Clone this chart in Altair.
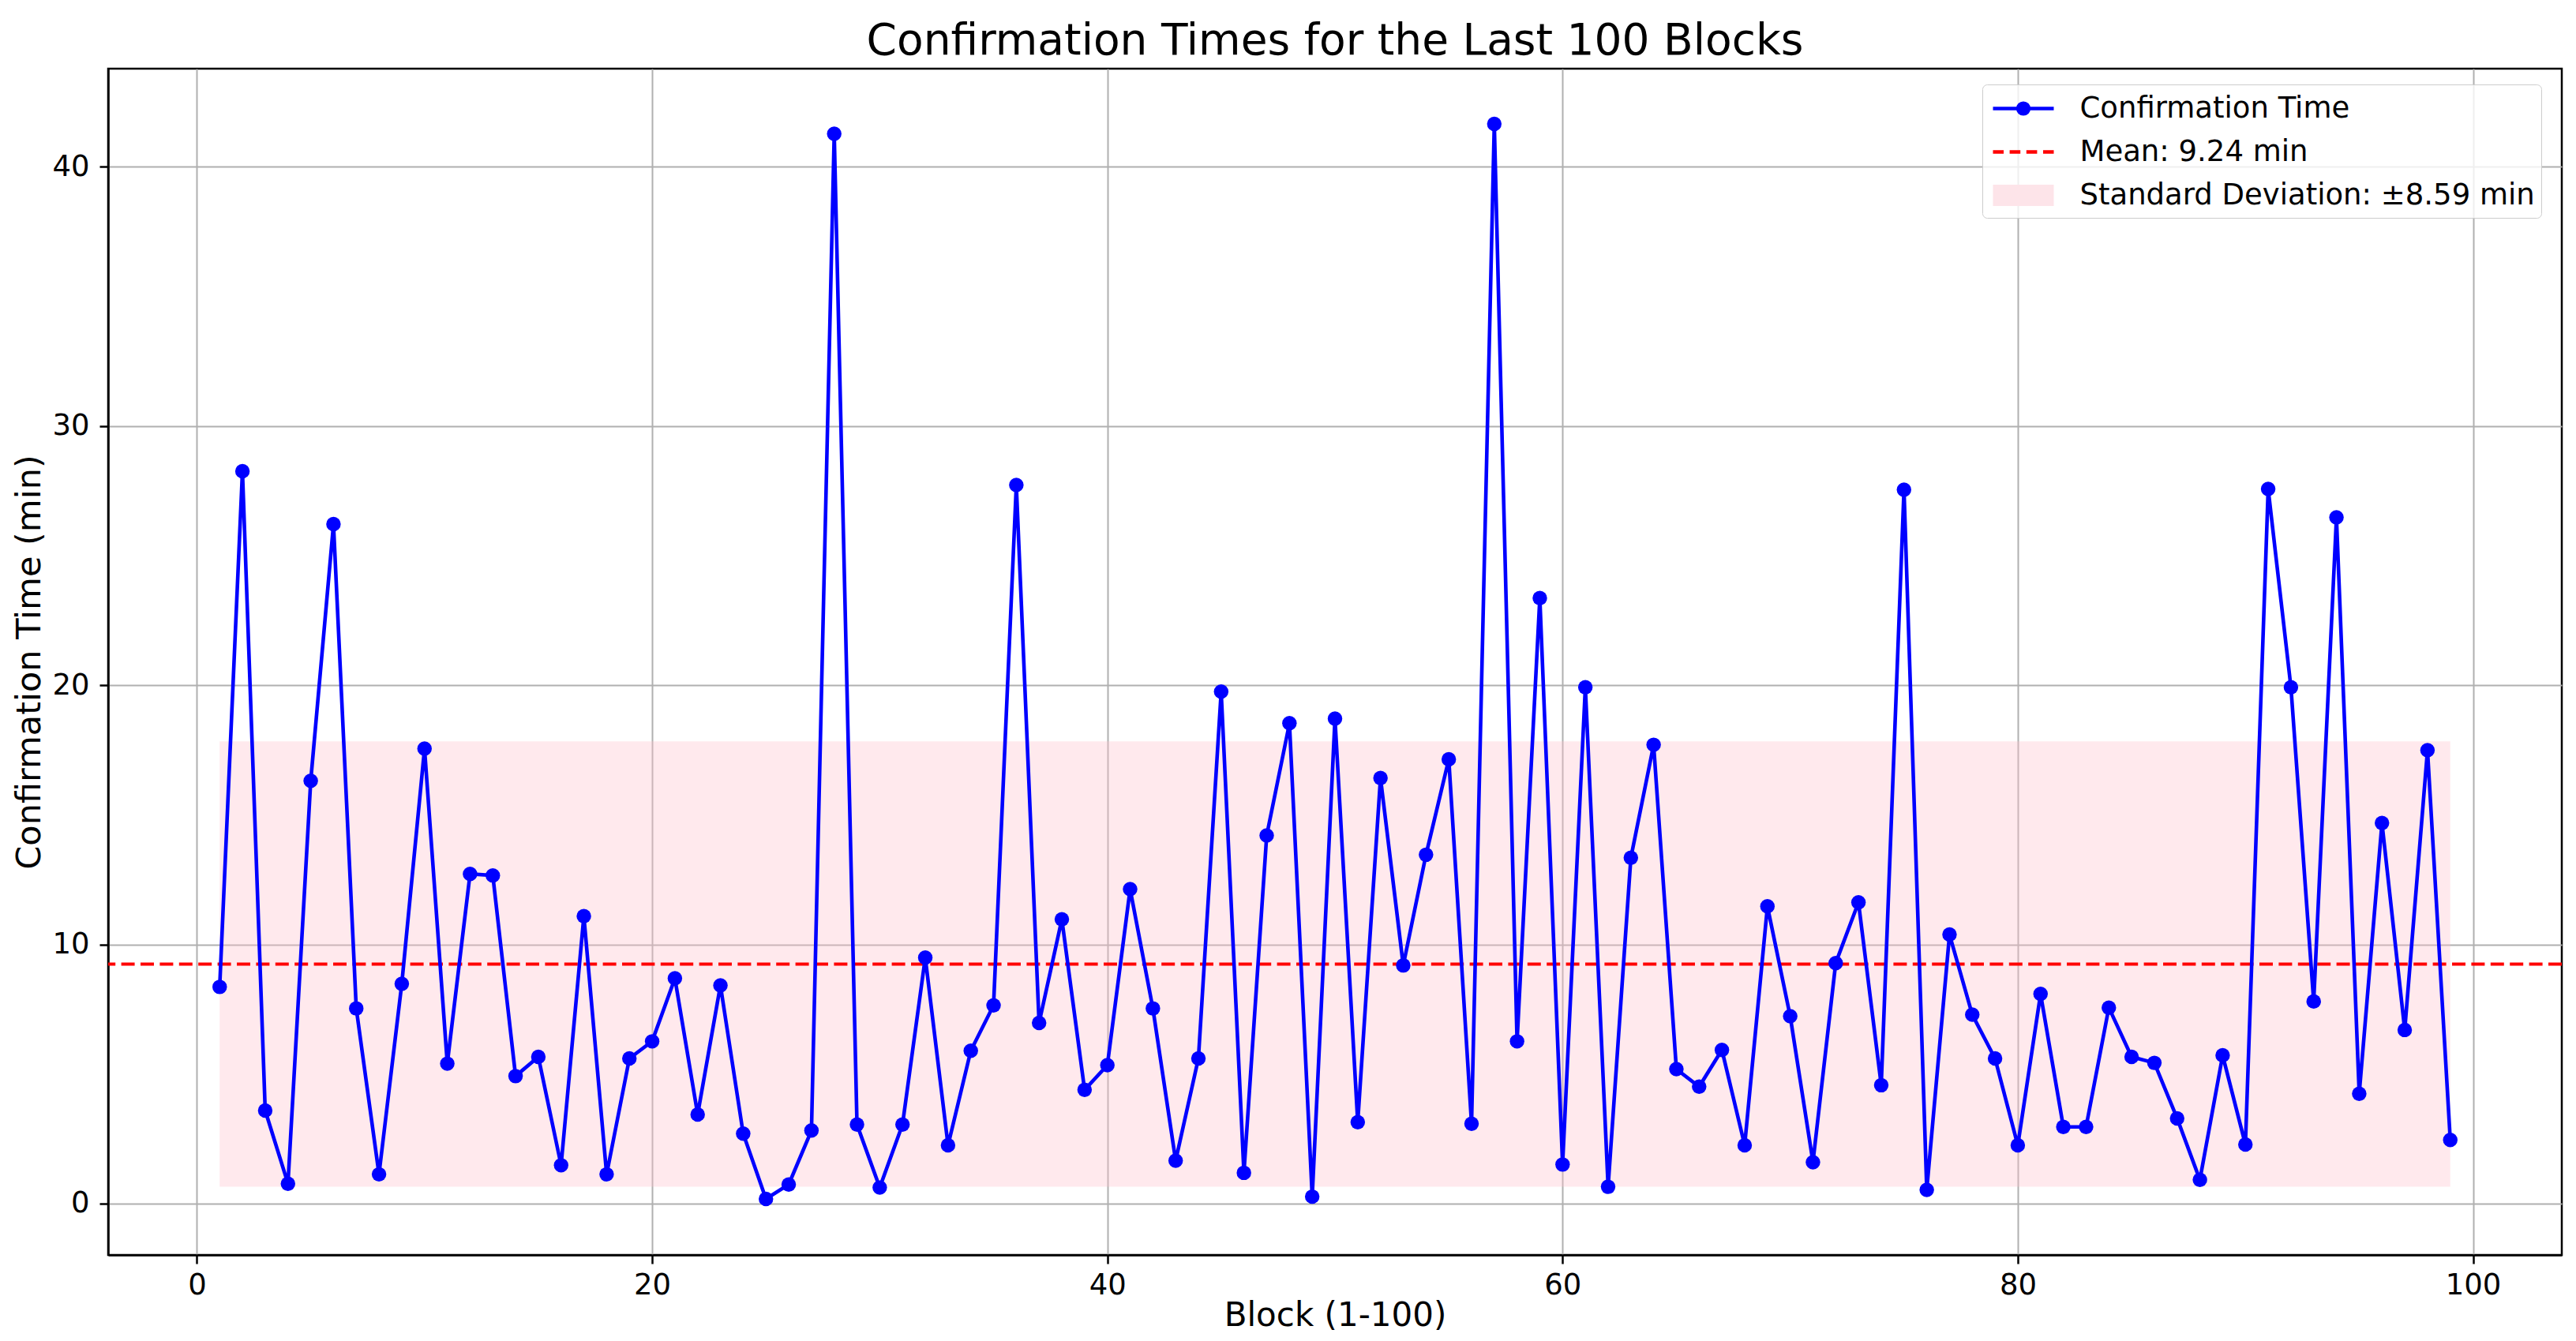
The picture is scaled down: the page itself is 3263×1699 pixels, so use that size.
import altair as alt
import pandas as pd

# ---------------- data ----------------
blocks = list(range(1, 100))
times = [8.36, 28.25, 3.59, 0.77, 16.31, 26.21, 7.53, 1.13, 8.48, 17.55,
         5.40, 12.72, 12.66, 4.92, 5.66, 1.48, 11.09, 1.13, 5.60, 6.26,
         8.69, 3.44, 8.42, 2.70, 0.18, 0.74, 2.82, 41.27, 3.05, 0.62,
         3.05, 9.49, 2.25, 5.90, 7.65, 27.72, 6.97, 10.97, 4.39, 5.34,
         12.13, 7.53, 1.66, 5.60, 19.75, 1.19, 14.20, 18.53, 0.27, 18.71,
         3.14, 16.42, 9.19, 13.46, 17.14, 3.08, 41.65, 6.26, 23.36, 1.51,
         19.92, 0.65, 13.34, 17.70, 5.19, 4.51, 5.93, 2.25, 11.47, 7.23,
         1.60, 9.28, 11.62, 4.57, 27.54, 0.53, 10.38, 7.29, 5.60, 2.25,
         8.09, 2.96, 2.96, 7.56, 5.66, 5.43, 3.29, 0.92, 5.72, 2.28,
         27.57, 19.92, 7.80, 26.47, 4.24, 14.68, 6.70, 17.49, 2.46]
MEAN = 9.24
STD = 8.59

x_ticks = [0, 20, 40, 60, 80, 100]
y_ticks = [0, 10, 20, 30, 40]
x_domain = [-3.9, 103.9]
y_domain = [-1.98, 43.78]

title_text = "Confirmation Times for the Last 100 Blocks"
x_title = "Block (1-100)"
y_title = "Confirmation Time (min)"

legend_labels = ["Confirmation Time",
                 f"Mean: {MEAN:.2f} min",
                 f"Standard Deviation: \u00b1{STD:.2f} min"]
legend_colors = ["#0000ff", "#ff0000", "#fde4e9"]
# legend symbol glyphs (unit paths, scaled by the legend symbol size)
legend_shapes = [
    "M-1.925,0L1.925,0M-0.34,0A0.34,0.34 0 1,0 0.34,0A0.34,0.34 0 1,0 -0.34,0Z",
    "M-1.925,0L-1.25,0M-0.87,0L-0.19,0M0.19,0L0.87,0M1.25,0L1.925,0",
    "M-1.81,-0.56L1.81,-0.56L1.81,0.56L-1.81,0.56Z",
]

FONT = "DejaVu Sans"

df = pd.DataFrame({"block": blocks, "time": times})
band_df = pd.DataFrame({"x1": [blocks[0]], "x2": [blocks[-1]],
                        "lo": [MEAN - STD], "hi": [MEAN + STD]})
mean_df = pd.DataFrame({"mean": [MEAN]})
legend_df = pd.DataFrame({"label": legend_labels,
                          "nx": [None] * 3, "ny": [None] * 3})

xscale = alt.Scale(domain=x_domain, nice=False, zero=False)
yscale = alt.Scale(domain=y_domain, nice=False, zero=False)
xaxis = alt.Axis(values=x_ticks, format="d", title=x_title)
yaxis = alt.Axis(values=y_ticks, format="d", title=y_title)


def X(field):
    return alt.X(field, type="quantitative", scale=xscale, axis=xaxis, title=x_title)


def Y(field):
    return alt.Y(field, type="quantitative", scale=yscale, axis=yaxis, title=y_title)


band = alt.Chart(band_df).mark_rect(color="#ffc0cb", opacity=0.35).encode(
    x=X("x1"), x2="x2", y=Y("lo"), y2="hi")

mean_rule = alt.Chart(mean_df).mark_rule(
    color="#ff0000", strokeWidth=4.2, strokeDash=[17, 7.4]).encode(y=Y("mean"))

line = alt.Chart(df).mark_line(color="#0000ff", strokeWidth=4.6).encode(
    x=X("block"), y=Y("time"))

points = alt.Chart(df).mark_circle(color="#0000ff", size=340, opacity=1).encode(
    x=X("block"), y=Y("time"))

LEG = alt.Legend(
    title=None, orient="none", legendX=2374, legendY=20,
    padding=8, rowPadding=14,
    symbolSize=1600, symbolStrokeWidth=4.6, symbolOffset=21.5,
    labelOffset=49, labelFontSize=37, labelFont=FONT, labelColor="black",
    labelLimit=0, fillColor="rgba(255,255,255,0.8)", strokeColor="#cccccc",
    cornerRadius=6)

legend_layer = alt.Chart(legend_df).mark_point(
    filled=True, strokeWidth=4.6, size=1600, opacity=1).encode(
    x=X("nx"), y=Y("ny"),
    fill=alt.Fill("label:N", scale=alt.Scale(domain=legend_labels, range=legend_colors), legend=LEG),
    stroke=alt.Stroke("label:N", scale=alt.Scale(domain=legend_labels, range=legend_colors), legend=LEG),
    shape=alt.Shape("label:N", scale=alt.Scale(domain=legend_labels, range=legend_shapes), legend=LEG),
)

chart = alt.layer(band, mean_rule, line, points, legend_layer).properties(
    width=3108, height=1503,
    padding={"left": 129, "top": 79, "right": 10, "bottom": 100},
    autosize=alt.AutoSizeParams(type="none"),
    title=alt.TitleParams(title_text, fontSize=55, font=FONT, fontWeight="normal",
                          color="black", anchor="middle", offset=6),
).configure_view(
    stroke="black", strokeWidth=2.5
).configure_axis(
    gridColor="#b0b0b0", gridWidth=2, gridOpacity=1,
    domainColor="black", domainWidth=2.5,
    tickColor="black", tickSize=11, tickWidth=2.5,
    labelFont=FONT, labelFontSize=37, labelColor="black",
    titleFont=FONT, titleFontSize=42, titleFontWeight="normal", titleColor="black",
).configure_axisX(
    labelPadding=9, titlePadding=0
).configure_axisY(
    labelPadding=13, titlePadding=6, titleFontSize=43
)

chart.save("out.html", embed_options={"renderer": "svg", "actions": False})
